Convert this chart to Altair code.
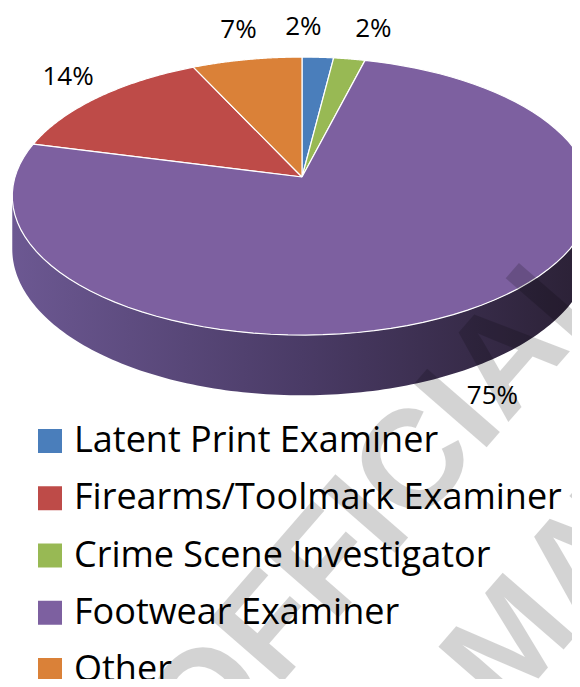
import math
import altair as alt
import pandas as pd

# ---- data ----
categories = ["Latent Print Examiner", "Firearms/Toolmark Examiner",
              "Crime Scene Investigator", "Footwear Examiner", "Other"]
percents = [2, 14, 2, 75, 7]
colors = ["#4a7ebb", "#be4b48", "#98b954", "#7d60a0", "#da8138"]
pie_order = [0, 3, 1, 2, 4]          # clockwise order of the slices from 12 o'clock
watermark_words = ["OFFICIAL", "MATERIAL"]

slices = pd.DataFrame({"category": categories, "pct": percents, "pos": pie_order})

# ---- geometry of the tilted (perspective) pie, in plot pixels ----
W, H = 564, 671
CX, CY = 294, 169      # apex of the pie
A, B = 287, 136.4      # half-width / half-depth of the top face
P = 0.137              # perspective strength (far edge smaller)
D = 52                 # thickness of the pie side
N = 90                 # points per slice arc
M = 160                # points along the side band
TH0 = math.acos(-P)
TH1 = 2 * math.pi - TH0
KX, KY = 1.15, 1.25    # label distance factors
G = 70                 # minimum spacing between neighbouring labels

FONT = "Open Sans"

xs = alt.Scale(domain=[0, W], nice=False, zero=False)
ys = alt.Scale(domain=[0, H], nice=False, zero=False, reverse=True)

base = alt.Chart(slices).transform_window(
    cum="sum(pct)", sort=[alt.SortField("pos")], frame=[None, 0]
).transform_calculate(
    a0="(datum.cum - datum.pct) / 100 * 2 * PI"
).transform_calculate(
    a1="datum.cum / 100 * 2 * PI"
)

# top face: one closed polygon per slice (apex -> arc -> apex)
face = base.transform_calculate(
    steps=f"sequence(0, {N + 3})"
).transform_flatten(["steps"]).transform_calculate(
    ang=f"datum.a0 + (datum.a1 - datum.a0) * (datum.steps - 1) / {N}"
).transform_calculate(
    apex=f"datum.steps == 0 || datum.steps == {N + 2}"
).transform_calculate(
    s=f"1 / (1 + {P} * cos(datum.ang))"
).transform_calculate(
    px=f"datum.apex ? {CX} : {CX} + {A} * sin(datum.ang) * datum.s"
).transform_calculate(
    py=f"datum.apex ? {CY} : {CY} - {B} * cos(datum.ang) * datum.s"
).mark_line(stroke="white", strokeWidth=1.2, strokeJoin="round").encode(
    x=alt.X("px:Q", scale=xs, axis=None),
    y=alt.Y("py:Q", scale=ys, axis=None),
    detail="category:N",
    order=alt.Order("steps:Q"),
    fill=alt.Fill(
        "category:N",
        scale=alt.Scale(domain=categories, range=colors),
        sort=categories,
        legend=alt.Legend(
            title=None, orient="none", legendX=24, legendY=415,
            symbolType="square", symbolSize=576, symbolStrokeWidth=0,
            symbolOpacity=1, labelFont=FONT, labelFontSize=36,
            labelColor="black", labelOffset=6, rowPadding=21.25,
            labelLimit=600, padding=0,
        ),
    ),
)

# front side of the pie (only the big slice shows there)
side = alt.Chart(alt.sequence(0, M + 1, as_="k")).transform_calculate(
    ang=f"{TH0} + ({TH1} - {TH0}) * datum.k / {M}"
).transform_calculate(
    s=f"1 / (1 + {P} * cos(datum.ang))"
).transform_calculate(
    px=f"{CX} + {A} * sin(datum.ang) * datum.s"
).transform_calculate(
    py=f"{CY} - {B} * cos(datum.ang) * datum.s"
).transform_calculate(
    py2=f"datum.py + {D} * datum.s"
).mark_area(
    orient="vertical",
    color=alt.Gradient(
        gradient="linear",
        stops=[alt.GradientStop(color="#6c5892", offset=0),
               alt.GradientStop(color="#4a3b66", offset=0.5),
               alt.GradientStop(color="#2a2034", offset=1)],
        x1=0, x2=1, y1=0, y2=0,
    ),
).encode(
    x=alt.X("px:Q", scale=xs, axis=None),
    y=alt.Y("py:Q", scale=ys, axis=None),
    y2="py2:Q",
)

# percentage labels outside the pie, neighbours pushed apart when they collide
labels = base.transform_calculate(
    am="(datum.a0 + datum.a1) / 2"
).transform_calculate(
    s=f"1 / (1 + {P} * cos(datum.am))"
).transform_calculate(
    lx0=f"{CX} + {A * KX} * sin(datum.am) * datum.s"
).transform_calculate(
    ly=f"{CY} - {B * KY} * cos(datum.am) * datum.s + (cos(datum.am) < 0 ? {D * 0.9} * datum.s : 0)"
).transform_window(
    prevx="lag(lx0)", prevy="lag(ly)", nextx="lead(lx0)", nexty="lead(ly)",
    sort=[alt.SortField("pos")],
).transform_calculate(
    pushp=(f"(datum.prevx != null && abs(datum.ly - datum.prevy) < 30 && abs(datum.lx0 - datum.prevx) < {G})"
           f" ? ({G} - abs(datum.lx0 - datum.prevx)) / 2 * (datum.lx0 > datum.prevx ? 1 : -1) : 0")
).transform_calculate(
    pushn=(f"(datum.nextx != null && abs(datum.ly - datum.nexty) < 30 && abs(datum.lx0 - datum.nextx) < {G})"
           f" ? ({G} - abs(datum.lx0 - datum.nextx)) / 2 * (datum.lx0 > datum.nextx ? 1 : -1) : 0")
).transform_calculate(
    lx="datum.lx0 + datum.pushp + datum.pushn"
).transform_calculate(
    txt="datum.pct + '%'"
).mark_text(font=FONT, fontSize=26, color="black", align="center", baseline="middle").encode(
    x=alt.X("lx:Q", scale=xs, axis=None),
    y=alt.Y("ly:Q", scale=ys, axis=None),
    text="txt:N",
)

wm1 = alt.Chart(pd.DataFrame({"w": [watermark_words[0]]})).mark_text(
    font="Liberation Sans", fontWeight="bold", fontSize=140, color="black",
    opacity=0.17, angle=311, align="center", baseline="middle",
).encode(x=alt.value(377), y=alt.value(492), text="w:N")

wm2 = alt.Chart(pd.DataFrame({"w": [watermark_words[1]]})).mark_text(
    font="Liberation Sans", fontWeight="bold", fontSize=140, color="black",
    opacity=0.17, angle=311, align="left", baseline="alphabetic",
).encode(x=alt.value(497), y=alt.value(709), text="w:N")

chart = alt.layer(side, face, labels, wm1, wm2).properties(
    width=W, height=H, padding=0, autosize=alt.AutoSizeParams(type="none"),
    background="white",
).configure_view(stroke=None)

chart.save("out.html", embed_options={"renderer": "svg", "actions": False})
